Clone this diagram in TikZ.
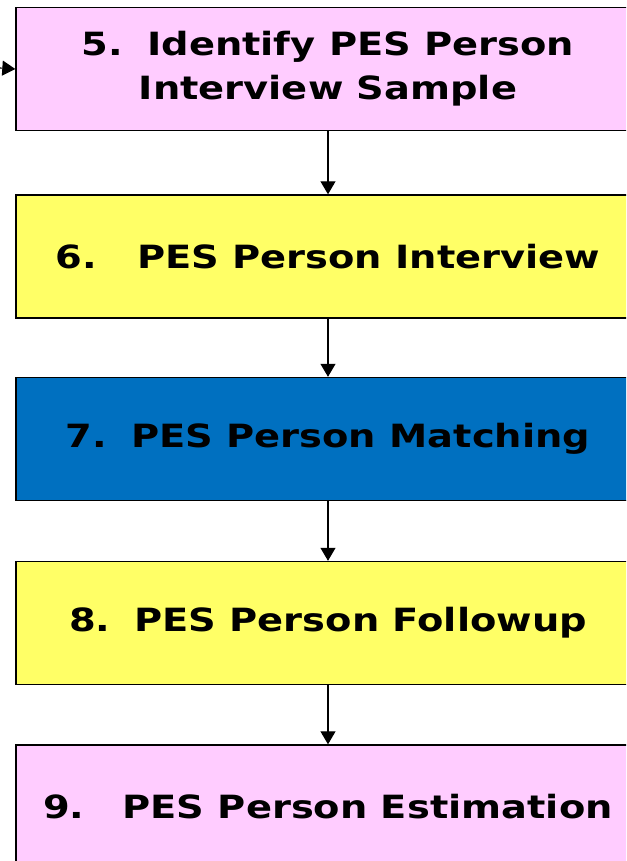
\documentclass[tikz,border=0pt]{standalone}
\usepackage{fontspec}
\newfontfamily\stepfont{DejaVu Sans}[FakeStretch=1.2]
\usepackage{tikz}
\usetikzlibrary{arrows.meta, positioning, calc}
\definecolor{pespink}{RGB}{255, 204, 255}
\definecolor{pesyellow}{RGB}{255, 255, 102}
\definecolor{pesblue}{RGB}{0, 112, 192}

\begin{document}
\begin{tikzpicture}[x=1pt, y=-1pt,
    stepbox/.style={rectangle, draw=black, line width=1.4pt, minimum width=624pt, minimum height=123pt, align=center, inner sep=0pt, font=\stepfont\bfseries\fontsize{32}{44}\selectfont},
    arrow/.style={-{Triangle[width=15pt, length=13pt]}, line width=1.1pt, black}
]
    \useasboundingbox (0,0) rectangle (626,861);
    \clip (0,0) rectangle (626,861);

    % Process steps
    \node[stepbox, fill=pespink] (ident) at (328, 69) {5.\hspace{24pt}Identify PES Person\\Interview Sample};
    \node[stepbox, fill=pesyellow] (interview) at (328, 256.5) {6.\hspace{40pt}PES Person Interview};
    \node[stepbox, fill=pesblue] (matching) at (328, 439) {7.\hspace{24pt}PES Person Matching};
    \node[stepbox, fill=pesyellow] (followup) at (328, 623) {8.\hspace{24pt}PES Person Followup};
    \node[stepbox, fill=pespink] (estimation) at (328, 806.5) {9.\hspace{38pt}PES Person Estimation};

    % Incoming from the left
    \coordinate (incoming) at (0, 68);
    \draw[arrow] (incoming) -- (ident.west);

    % Flow
    \draw[arrow] (ident) -- (interview);
    \draw[arrow] (interview) -- (matching);
    \draw[arrow] (matching) -- (followup);
    \draw[arrow] (followup) -- (estimation);
\end{tikzpicture}
\end{document}
